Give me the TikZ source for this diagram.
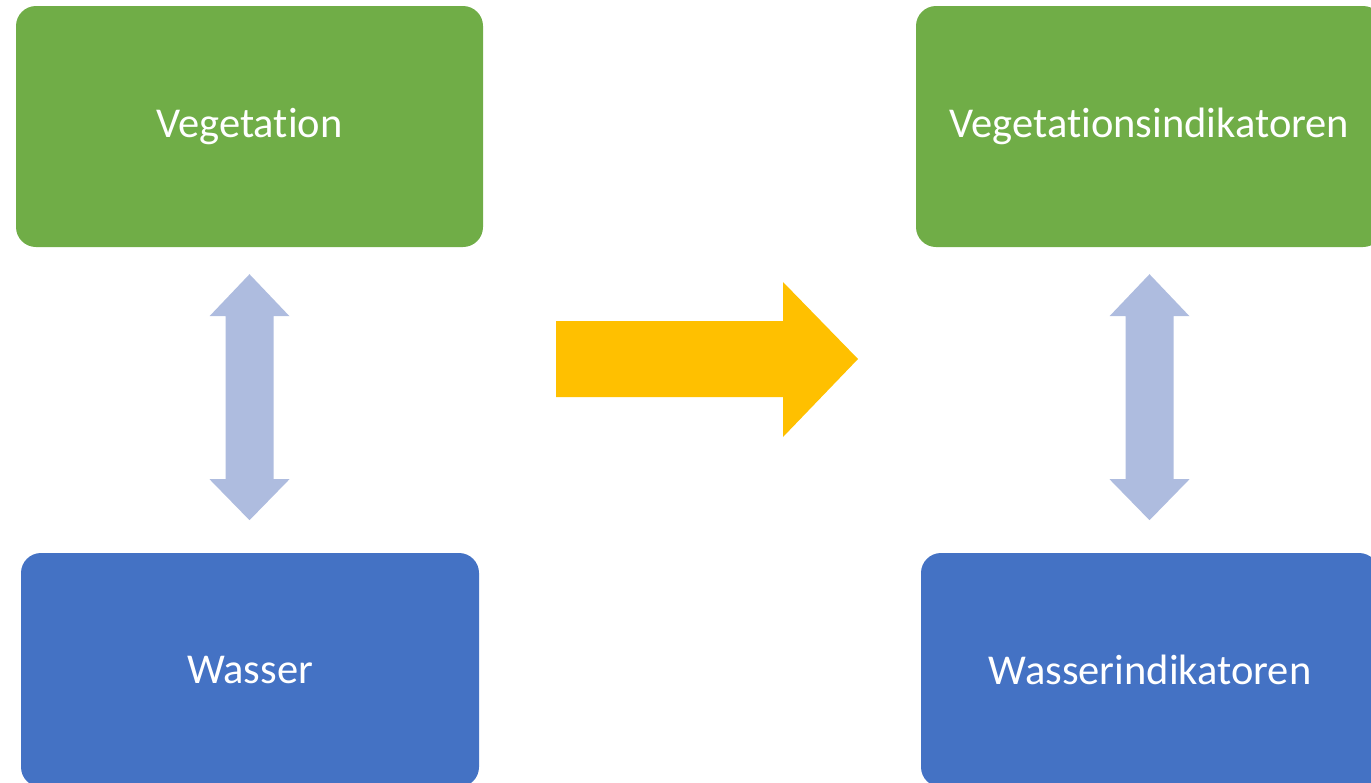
\documentclass[tikz,border=0pt]{standalone}
\usepackage{fontspec}
\setmainfont{Carlito}[Ligatures=NoCommon]
\usetikzlibrary{calc}
\definecolor{leafgreen}{HTML}{70AD47}
\definecolor{waterblue}{HTML}{4472C4}
\definecolor{paleblue}{HTML}{AEBCDF}
\definecolor{gold}{HTML}{FFC000}
\tikzset{
  block/.style={rectangle, rounded corners=20pt, inner sep=0pt, text=white,
    font=\fontsize{42.5}{50}\selectfont},
  vegbox/.style={block, fill=leafgreen, minimum width=467pt, minimum height=241pt},
  waterbox/.style={block, fill=waterblue, minimum width=458pt, minimum height=234pt}
}
\begin{document}
\begin{tikzpicture}[x=1pt, y=-1pt]
  \useasboundingbox (0,0) rectangle (1371,782);
  \clip (0,0) rectangle (1371,782);
  \node[vegbox] (veg) at (249.5,126.5) {Vegetation};
  \node[waterbox] (wasser) at (250,670) {Wasser};
  \node[vegbox] (vegind) at (1149.5,126.5) {Vegetationsindikatoren};
  \node[waterbox] (wasserind) at (1150,670) {Wasserindikatoren};
  % double arrows between the boxes
  \foreach \upper in {veg, vegind}
    \fill[paleblue] ($(\upper.south)+(0,27)$) -- ++(40,42) -- ++(-16,0) -- ++(0,163)
      -- ++(16,0) -- ++(-40,41) -- ++(-40,-41) -- ++(16,0) -- ++(0,-163)
      -- ++(-16,0) -- cycle;
  \fill[gold] (556,321) -- (783,321) -- (783,282) -- (858,359) -- (783,437)
    -- (783,397) -- (556,397) -- cycle;
\end{tikzpicture}
\end{document}
